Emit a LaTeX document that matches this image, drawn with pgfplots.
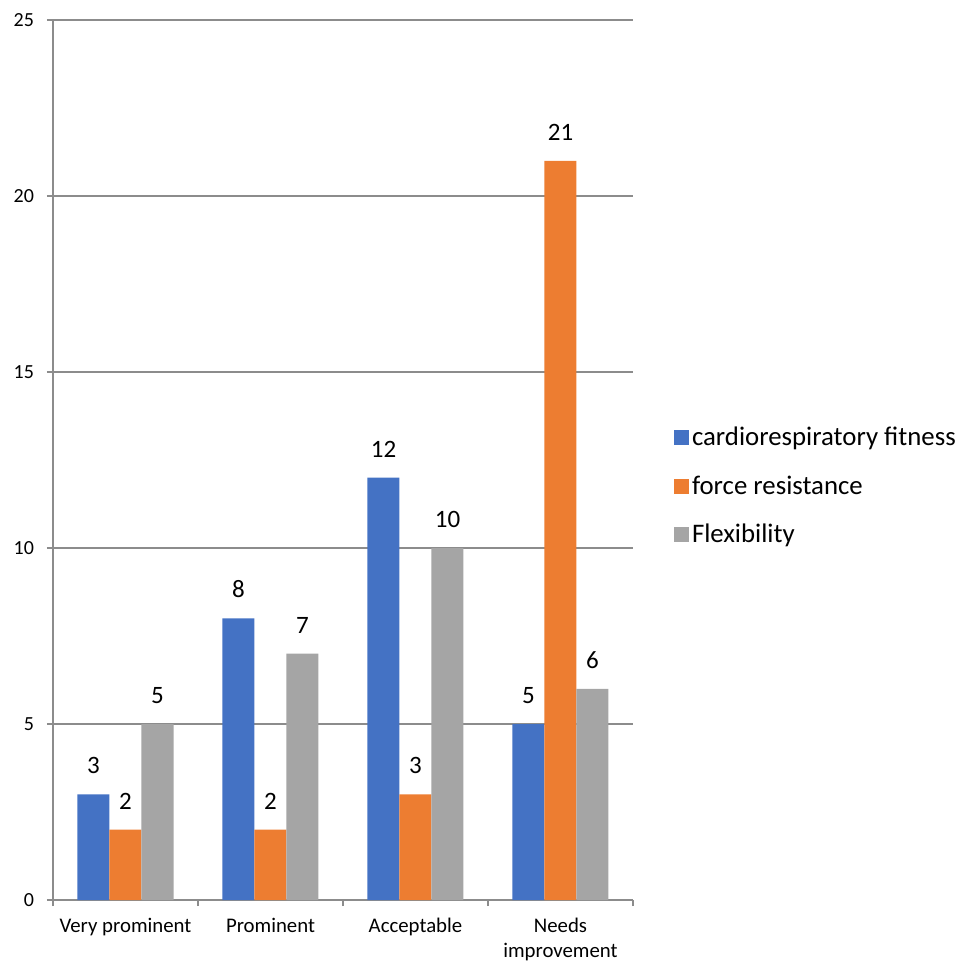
\documentclass[border=0pt]{standalone}
\usepackage{pgfplots}
\pgfplotsset{compat=1.18}
\usepackage{fontspec}
\setmainfont{Carlito}
\definecolor{cblue}{HTML}{4472C4}
\definecolor{corange}{HTML}{ED7D31}
\definecolor{cgray}{HTML}{A5A5A5}
\definecolor{axgray}{RGB}{140,140,140}
\pgfplotsset{sqlegend/.style={legend image code/.code={\fill[##1] (0bp,-3.75bp) rectangle (7.5bp,3.75bp);}}}
\begin{document}
\begin{tikzpicture}
\begin{axis}[
  at={(0,0)}, anchor=south west,
  scale only axis, width=290bp, height=440bp,
  ybar=0pt, bar width=16bp,
  xmin=-0.5, xmax=3.5, ymin=0, ymax=25,
  axis lines*=left,
  axis line style={draw=axgray, line width=0.6bp},
  ytick={0,5,10,15,20,25},
  xtick={0,1,2,3},
  xticklabels={Very prominent, Prominent, Acceptable, Needs\\improvement},
  minor xtick={-0.5,0.5,1.5,2.5,3.5},
  tick align=outside,
  major tick length=3bp, minor tick length=3bp,
  major x tick style={draw=none},
  tick style={draw=axgray, line width=0.6bp},
  minor tick style={draw=axgray, line width=0.6bp},
  ymajorgrids=true,
  grid style={draw=axgray, line width=0.6bp},
  /pgf/number format/assume math mode=true,
  xticklabel style={align=center, font=\fontsize{10.4bp}{12.5bp}\selectfont, yshift=-2.5bp},
  yticklabel style={font=\fontsize{10bp}{12bp}\selectfont, xshift=-3bp},
  nodes near coords,
  every node near coord/.append style={font=\fontsize{12.5bp}{14bp}\selectfont, inner sep=0pt, anchor=south, yshift=10bp, text=black},
  legend cell align=left,
  legend style={at={(1.07,0.47)}, anchor=west, draw=none, fill=none, inner sep=0pt,
    font=\fontsize{13.4bp}{16bp}\selectfont, row sep=10.5bp, nodes={inner sep=1.5bp}},
]
\addplot[fill=cblue, draw=none, sqlegend] coordinates {(0,3) (1,8) (2,12) (3,5)};
\addplot[fill=corange, draw=none, sqlegend] coordinates {(0,2) (1,2) (2,3) (3,21)};
\addplot[fill=cgray, draw=none, sqlegend] coordinates {(0,5) (1,7) (2,10) (3,6)};
\legend{cardiorespiratory fitness, force resistance, Flexibility}
\end{axis}
\pgfresetboundingbox
\path[use as bounding box] (-26.5bp,-32bp) rectangle (456bp,450bp);
\end{tikzpicture}
\end{document}
